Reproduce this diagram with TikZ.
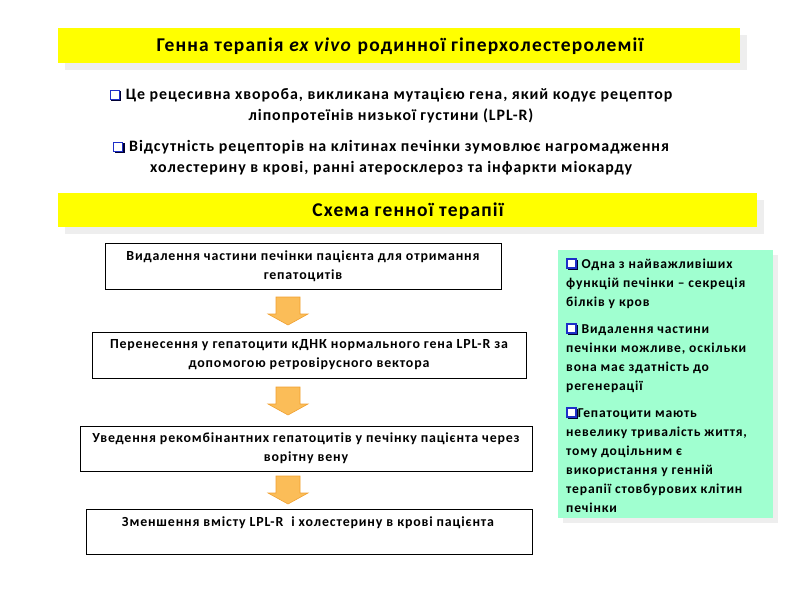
\documentclass[tikz,border=0pt]{standalone}
\usepackage{fontspec}
\setmainfont[LetterSpace=6]{Carlito}
\usetikzlibrary{calc}
\definecolor{ybar}{HTML}{FFFF00}
\definecolor{gbox}{HTML}{A0FFD0}
\definecolor{shad}{HTML}{EEEEEE}
\definecolor{orfill}{HTML}{FBBD58}
\definecolor{orline}{HTML}{F0A030}
\definecolor{bulblue}{HTML}{1E2FC8}
\newcommand{\bxq}{\tikz[baseline=0pt,x=1pt,y=1pt]{\fill[black!80!blue] (1.5,-1.5) rectangle (11.5,8.5);\draw[bulblue,line width=1.3pt,fill=white] (0.6,0.6) rectangle (9.6,9.6);}}
\tikzset{
  titlebar/.style={fill=ybar,draw=none},
  shadowbox/.style={fill=shad,draw=none},
  stepbox/.style={draw=black,line width=1pt,fill=white},
  boxtext/.style={align=center,font=\bfseries\fontsize{13.9}{19}\selectfont,inner sep=0pt},
  bigarrow/.style={fill=orfill,draw=orline,line width=0.6pt},
  txt/.style={align=center,inner sep=0pt},
}
\begin{document}
\begin{tikzpicture}[x=1pt,y=-1pt]
\useasboundingbox (0,0) rectangle (800,600);
% title bar 1
\fill[shadowbox] (65,35) rectangle (747,70);
\fill[titlebar] (58,28) rectangle (740,63);
\node[txt,font=\bfseries\fontsize{19.5}{22}\selectfont] (t1) at (400,46) {Генна терапія \textit{ex vivo} родинної гіперхолестеролемії};
% bullets
\node[txt,font=\bfseries\fontsize{15.9}{21}\selectfont] (b1) at (391,106) {\bxq\ Це рецесивна хвороба, викликана мутацією гена, який кодує рецептор\\ ліпопротеїнів низької густини (LPL-R)};
\node[txt,font=\bfseries\fontsize{15.9}{21}\selectfont] (b2) at (391,158) {\bxq\ Відсутність рецепторів на клітинах печінки зумовлює нагромадження\\ холестерину в крові, ранні атеросклероз та інфаркти міокарду};
% title bar 2
\fill[shadowbox] (65,200) rectangle (764,234);
\fill[titlebar] (58,193) rectangle (757,227);
\node[txt,font=\bfseries\fontsize{19.5}{22}\selectfont] (t2) at (408,211) {Схема генної терапії};
% steps
\draw[stepbox] (105,243) rectangle (501,289);
\node[boxtext] (s1) at (303,266) {Видалення частини печінки пацієнта для отримання\\ гепатоцитів};
\draw[stepbox] (92,332) rectangle (526,378);
\node[boxtext] (s2) at (309,355) {Перенесення у гепатоцити кДНК нормального гена LPL-R за\\ допомогою ретровірусного вектора};
\draw[stepbox] (80,426) rectangle (532,471);
\node[boxtext] (s3) at (306,448) {Уведення рекомбінантних гепатоцитів у печінку пацієнта через\\ ворітну вену};
\draw[stepbox] (86,509) rectangle (532,554);
\node[boxtext] (s4) at (308,523) {Зменшення вмісту LPL-R\ \ і холестерину в крові пацієнта};
% arrows
\foreach \ytop/\nm in {297/a1,387/a2,476/a3}{
  \draw[bigarrow] (276,\ytop) -- (300,\ytop) -- (300,\ytop+17) -- (308,\ytop+17) -- (288,\ytop+28) -- (268,\ytop+17) -- (276,\ytop+17) -- cycle;
  \coordinate (\nm) at (288,\ytop+14);
}
% green box
\fill[shadowbox] (563,255) rectangle (778,523);
\fill[gbox] (558,250) rectangle (773,518);
\node[anchor=north west,align=left,inner sep=0pt,font=\bfseries\fontsize{13.6}{19}\selectfont] (g) at (566,258) {\bxq\ Одна з найважливіших\\ функцій печінки – секреція\\ білків у кров\\[8pt]
\bxq\ Видалення частини\\ печінки можливе, оскільки\\ вона має здатність до\\ регенерації\\[8pt]
\bxq Гепатоцити мають\\ невелику тривалість життя,\\ тому доцільним є\\ використання у генній\\ терапії стовбурових клітин\\ печінки};
\end{tikzpicture}
\end{document}
